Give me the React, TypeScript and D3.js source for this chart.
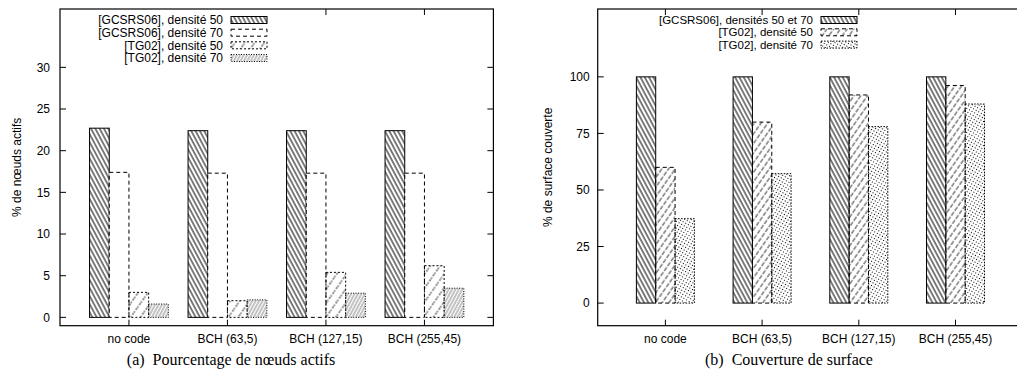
import React from "react";
import * as d3 from "d3";

// ---------- data ----------
const categories = ["no code", "BCH (63,5)", "BCH (127,15)", "BCH (255,45)"];

// (a) Pourcentage de nœuds actifs
const activeGcsrs50 = [22.7, 22.4, 22.4, 22.4];
const activeGcsrs70 = [17.4, 17.3, 17.3, 17.3];
const activeTg50 = [3.0, 2.0, 5.4, 6.2];
const activeTg70 = [1.6, 2.1, 2.9, 3.5];
const activeTicks = [0, 5, 10, 15, 20, 25, 30];
const activeLabels = [
  "[GCSRS06], densité 50",
  "[GCSRS06], densité 70",
  "[TG02], densité 50",
  "[TG02], densité 70",
];

// (b) Couverture de surface
const coverGcsrs = [100, 100, 100, 100];
const coverTg50 = [60, 80, 92, 96.2];
const coverTg70 = [37.3, 57.2, 78, 88];
const coverTicks = [0, 25, 50, 75, 100];
const coverLabels = [
  "[GCSRS06], densités 50 et 70",
  "[TG02], densité 50",
  "[TG02], densité 70",
];

const SANS = "'Liberation Sans', Arial, Helvetica, sans-serif";
const SERIF = "'Liberation Serif', 'Times New Roman', serif";

type Style = { fill: string; dash: string | undefined };

function Patterns() {
  return (
    <defs>
      <pattern id="back" width="3.8" height="10" patternUnits="userSpaceOnUse" patternTransform="rotate(-28)">
        <line x1="1" y1="-1" x2="1" y2="11" stroke="#000" strokeWidth="1" />
      </pattern>
      <pattern id="fwdSparse" width="8" height="6" patternUnits="userSpaceOnUse" patternTransform="rotate(35)">
        <line x1="1" y1="0" x2="1" y2="6" stroke="#000" strokeWidth="0.8" strokeDasharray="2,1.5" />
      </pattern>
      <pattern id="fwdDense" width="3" height="10" patternUnits="userSpaceOnUse" patternTransform="rotate(28)">
        <line x1="1" y1="-1" x2="1" y2="11" stroke="#777" strokeWidth="0.9" />
      </pattern>
      <pattern id="fwdMed" width="5.5" height="6" patternUnits="userSpaceOnUse" patternTransform="rotate(35)">
        <line x1="1" y1="0" x2="1" y2="6" stroke="#000" strokeWidth="0.8" strokeDasharray="3,1.5" />
      </pattern>
      <pattern id="dots" width="3" height="3" patternUnits="userSpaceOnUse" patternTransform="rotate(30)">
        <rect x="0" y="0" width="1" height="1" fill="#000" />
      </pattern>
    </defs>
  );
}

type ChartProps = {
  left: number;
  right: number;
  top: number;
  bottom: number;
  yDomain: [number, number];
  yTicks: number[];
  series: number[][];
  styles: Style[];
  labels: string[];
  barStart: number;
  yLabel: string;
  yLabelX: number;
  tickLabelGap: number;
  legendTextX: number;
  legendRows: number[];
  legendFont: number;
  legendOpaque: boolean;
  caption: string;
  captionX: number;
};

function Chart(p: ChartProps) {
  const x = d3.scaleLinear().domain([-0.7, 3.7]).range([p.left, p.right]);
  const y = d3.scaleLinear().domain(p.yDomain).range([p.bottom, p.top]);
  const bw = 0.2;
  const tl = 6;
  return (
    <g>
      {/* bars */}
      {p.series.map((vals, si) =>
        vals.map((v, ci) => {
          const x0 = x(ci + p.barStart + si * bw);
          const x1 = x(ci + p.barStart + (si + 1) * bw);
          const y0 = y(0);
          const y1 = y(v);
          return (
            <rect
              key={`${si}-${ci}`}
              x={x0}
              y={y1}
              width={x1 - x0}
              height={y0 - y1}
              fill={p.styles[si].fill}
              stroke="#000"
              strokeWidth={1}
              strokeDasharray={p.styles[si].dash}
            />
          );
        })
      )}
      {/* legend */}
      {p.legendOpaque && (
        <rect x={p.legendTextX - 135} y={p.top} width={185} height={p.legendRows[p.legendRows.length - 1] - p.top + 6} fill="#fff" />
      )}
      {p.labels.map((lab, i) => (
        <g key={lab}>
          <text
            x={p.legendTextX}
            y={p.legendRows[i]}
            dy="0.36em"
            textAnchor="end"
            fontFamily={SANS}
            fontSize={p.legendFont}
          >
            {lab}
          </text>
          <rect
            x={p.legendTextX + 8}
            y={p.legendRows[i] - 3.5}
            width={36}
            height={7}
            fill={p.styles[i].fill}
            stroke="#000"
            strokeWidth={1}
            strokeDasharray={p.styles[i].dash}
          />
        </g>
      ))}
      {/* y ticks */}
      {p.yTicks.map((t) => (
        <g key={t}>
          <line x1={p.left} x2={p.left + tl} y1={y(t)} y2={y(t)} stroke="#000" />
          <line x1={p.right} x2={p.right - tl} y1={y(t)} y2={y(t)} stroke="#000" />
          <text
            x={p.left - p.tickLabelGap}
            y={y(t)}
            dy="0.36em"
            textAnchor="end"
            fontFamily={SANS}
            fontSize={12}
          >
            {t}
          </text>
        </g>
      ))}
      {/* x ticks */}
      {categories.map((c, i) => (
        <g key={c}>
          <line x1={x(i)} x2={x(i)} y1={p.bottom} y2={p.bottom - tl} stroke="#000" />
          {!(p.legendOpaque && i < 2) && (
            <line x1={x(i)} x2={x(i)} y1={p.top} y2={p.top + tl} stroke="#000" />
          )}
          <text x={x(i)} y={343} textAnchor="middle" fontFamily={SANS} fontSize={12}>
            {c}
          </text>
        </g>
      ))}
      {/* border */}
      <rect
        x={p.left}
        y={p.top}
        width={p.right - p.left}
        height={p.bottom - p.top}
        fill="none"
        stroke="#000"
        strokeWidth={1.2}
      />
      {/* y label */}
      <text
        transform={`translate(${p.yLabelX},${(p.top + p.bottom) / 2}) rotate(-90)`}
        textAnchor="middle"
        fontFamily={SANS}
        fontSize={12}
      >
        {p.yLabel}
      </text>
      <text x={p.captionX} y={365} textAnchor="middle" fontFamily={SERIF} fontSize={16} style={{ whiteSpace: "pre" }}>
        {p.caption}
      </text>
    </g>
  );
}

export default function App() {
  return (
    <div style={{ position: "absolute", left: 0, top: 0 }}>
      <svg width={1017} height={374} style={{ display: "block", background: "#fff" }}>
        <Patterns />
        <Chart
          left={60}
          right={493.4}
          top={9}
          bottom={325.7}
          yDomain={[-1, 37]}
          yTicks={activeTicks}
          series={[activeGcsrs50, activeGcsrs70, activeTg50, activeTg70]}
          styles={[
            { fill: "url(#back)", dash: undefined },
            { fill: "#fff", dash: "4,3" },
            { fill: "url(#fwdSparse)", dash: "2,2" },
            { fill: "url(#fwdDense)", dash: "1,1.5" },
          ]}
          labels={activeLabels}
          barStart={-0.4}
          yLabel="% de nœuds actifs"
          yLabelX={21}
          tickLabelGap={10}
          legendTextX={223}
          legendRows={[20, 32.7, 45.3, 58]}
          legendFont={12}
          legendOpaque={true}
          caption={"(a)  Pourcentage de nœuds actifs"}
          captionX={231}
        />
        <Chart
          left={597.7}
          right={1023.2}
          top={9}
          bottom={325.7}
          yDomain={[-10, 130]}
          yTicks={coverTicks}
          series={[coverGcsrs, coverTg50, coverTg70]}
          styles={[
            { fill: "url(#back)", dash: undefined },
            { fill: "url(#fwdMed)", dash: "4,3" },
            { fill: "url(#dots)", dash: "1.5,1.5" },
          ]}
          labels={coverLabels}
          barStart={-0.3}
          yLabel="% de surface couverte"
          yLabelX={551.5}
          tickLabelGap={8}
          legendTextX={813}
          legendRows={[20, 32.3, 44.6]}
          legendFont={11.5}
          legendOpaque={false}
          caption={"(b)  Couverture de surface"}
          captionX={789}
        />
      </svg>
    </div>
  );
}
